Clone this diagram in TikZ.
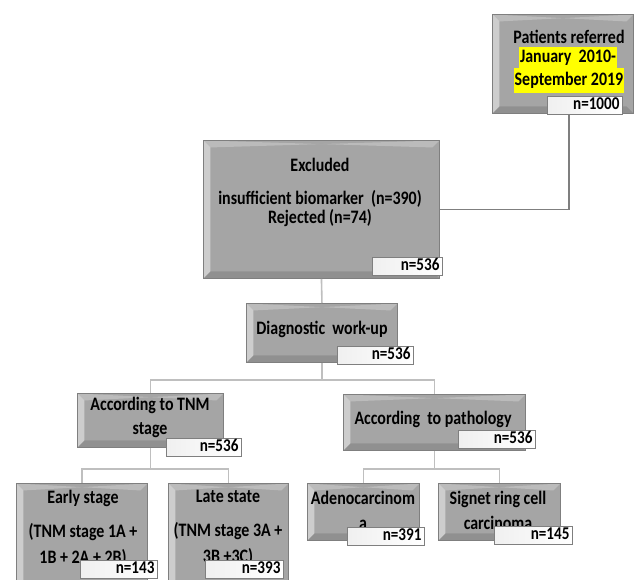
\documentclass[tikz,border=0pt]{standalone}
\usepackage{fontspec}
\setmainfont{Carlito}[FakeStretch=0.84]
\usetikzlibrary{positioning}

\definecolor{boxgray}{HTML}{A5A5A5}
\definecolor{edgegray}{HTML}{7F7F7F}
\definecolor{hilite}{HTML}{FFFF00}

\tikzset{
  box/.style={rectangle, draw=edgegray, fill=boxgray, line width=0.9pt,
    anchor=north west, inner sep=0pt,
    path picture={
      \fill[white, opacity=0.45] (path picture bounding box.north west)
        -- ([xshift=7pt,yshift=-7pt]path picture bounding box.north west)
        -- ([xshift=7pt,yshift=7pt]path picture bounding box.south west)
        -- (path picture bounding box.south west) -- cycle;
      \fill[white, opacity=0.25] (path picture bounding box.north west)
        -- ([xshift=-7pt,yshift=-7pt]path picture bounding box.north east)
        -- (path picture bounding box.north east)
        -- ([xshift=7pt,yshift=-7pt]path picture bounding box.north west) -- cycle;
      \fill[black, opacity=0.12] (path picture bounding box.south west)
        -- ([xshift=7pt,yshift=7pt]path picture bounding box.south west)
        -- ([xshift=-7pt,yshift=7pt]path picture bounding box.south east)
        -- (path picture bounding box.south east) -- cycle;
    }},
  count/.style={rectangle, draw=edgegray, left color=gray!12, right color=white,
    line width=0.9pt, anchor=north west, inner xsep=3pt, inner ysep=0pt,
    text width=#1, align=right, text height=13pt, text depth=5pt,
    font=\bfseries\fontsize{18}{18}\selectfont},
  count/.default=70pt,
  txt/.style={align=center, inner sep=0pt, font=\bfseries\fontsize{19}{19}\selectfont},
  mark yellow/.style={fill=hilite, inner xsep=1pt, inner ysep=0pt,
    font=\bfseries\fontsize{19}{19}\selectfont},
  link/.style={draw=gray!50, line width=1.6pt},
}

\begin{document}
\begin{tikzpicture}[x=1pt, y=-1pt]
  \useasboundingbox (0,0) rectangle (636,579);

  % boxes
  \node[box, minimum width=141pt, minimum height=99pt] (ref) at (492,14) {};
  \node[box, minimum width=236pt, minimum height=138pt] (excl) at (203,140) {};
  \node[box, minimum width=151pt, minimum height=59pt] (diag) at (246,303) {};
  \node[box, minimum width=146pt, minimum height=54pt] (tnm) at (77,393) {};
  \node[box, minimum width=182pt, minimum height=56pt] (patho) at (343,394) {};
  \node[box, minimum width=131pt, minimum height=110pt] (early) at (16,483) {};
  \node[box, minimum width=120pt, minimum height=110pt] (late) at (168,483) {};
  \node[box, minimum width=112pt, minimum height=57pt] (adeno) at (307,483) {};
  \node[box, minimum width=122pt, minimum height=57pt] (signet) at (438,483) {};

  % connectors
  \coordinate (refout) at (569,113);
  \draw[link, draw=edgegray] (refout) |- (excl.east);
  \draw[link] (excl.south) -- (diag.north);
  \draw[link] (diag.south) -- ++(0,17) -| (tnm.north);
  \draw[link] (diag.south) ++(0,17) -| (patho.north);
  \draw[link] (tnm.south) -- ++(0,21) -| (early.north);
  \draw[link] (tnm.south) ++(0,21) -| (late.north);
  \draw[link] (patho.south) -- ++(0,18) -| (adeno.north);
  \draw[link] (patho.south) ++(0,18) -| (signet.north);

  % texts
  \node[txt] (reft) at (569,37) {Patients referred};
  \node[mark yellow, minimum height=21pt] (refd1) at (568,57.5) {January\ \ 2010-};
  \node[mark yellow, minimum height=25pt] (refd2) at (569,80.5) {September 2019};
  \node[txt] (exclt) at (320,192) {Excluded\\[14pt]insufficient biomarker\ \ (n=390)\\Rejected (n=74)};
  \node[txt] (diagt) at (322,329) {Diagnostic\ \ work-up};
  \node[txt, font=\bfseries\fontsize{19}{24}\selectfont] (tnmt) at (150,417) {According to TNM\\stage};
  \node[txt] (pathot) at (433,419) {According\ \ to pathology};
  \node[txt, font=\bfseries\fontsize{19}{26}\selectfont] (earlyt) at (83,528) {Early stage\\[8pt](TNM stage 1A +\\1B + 2A + 2B)};
  \node[txt, font=\bfseries\fontsize{19}{26}\selectfont] (latet) at (228,528) {Late state\\[8pt](TNM stage 3A +\\3B +3C)};
  \node[txt, font=\bfseries\fontsize{19}{25}\selectfont] (adenot) at (363,510) {Adenocarcinom\\a};
  \node[txt, font=\bfseries\fontsize{19}{25}\selectfont] (signett) at (498,510) {Signet ring cell\\carcinoma};

  % counts
  \node[count=69pt] (n1000) at (547,96) {n=1000};
  \node[count=64pt] (n536a) at (372,257) {n=536};
  \node[count=70pt] (n536b) at (337,346) {n=536};
  \node[count=69pt] (n536c) at (166,438) {n=536};
  \node[count=71pt] (n536d) at (458,430) {n=536};
  \node[count=71pt] (n143) at (80,560) {n=143};
  \node[count=72pt] (n393) at (205,560) {n=393};
  \node[count=71pt] (n391) at (347,527) {n=391};
  \node[count=72pt] (n145) at (494,526) {n=145};
\end{tikzpicture}
\end{document}
